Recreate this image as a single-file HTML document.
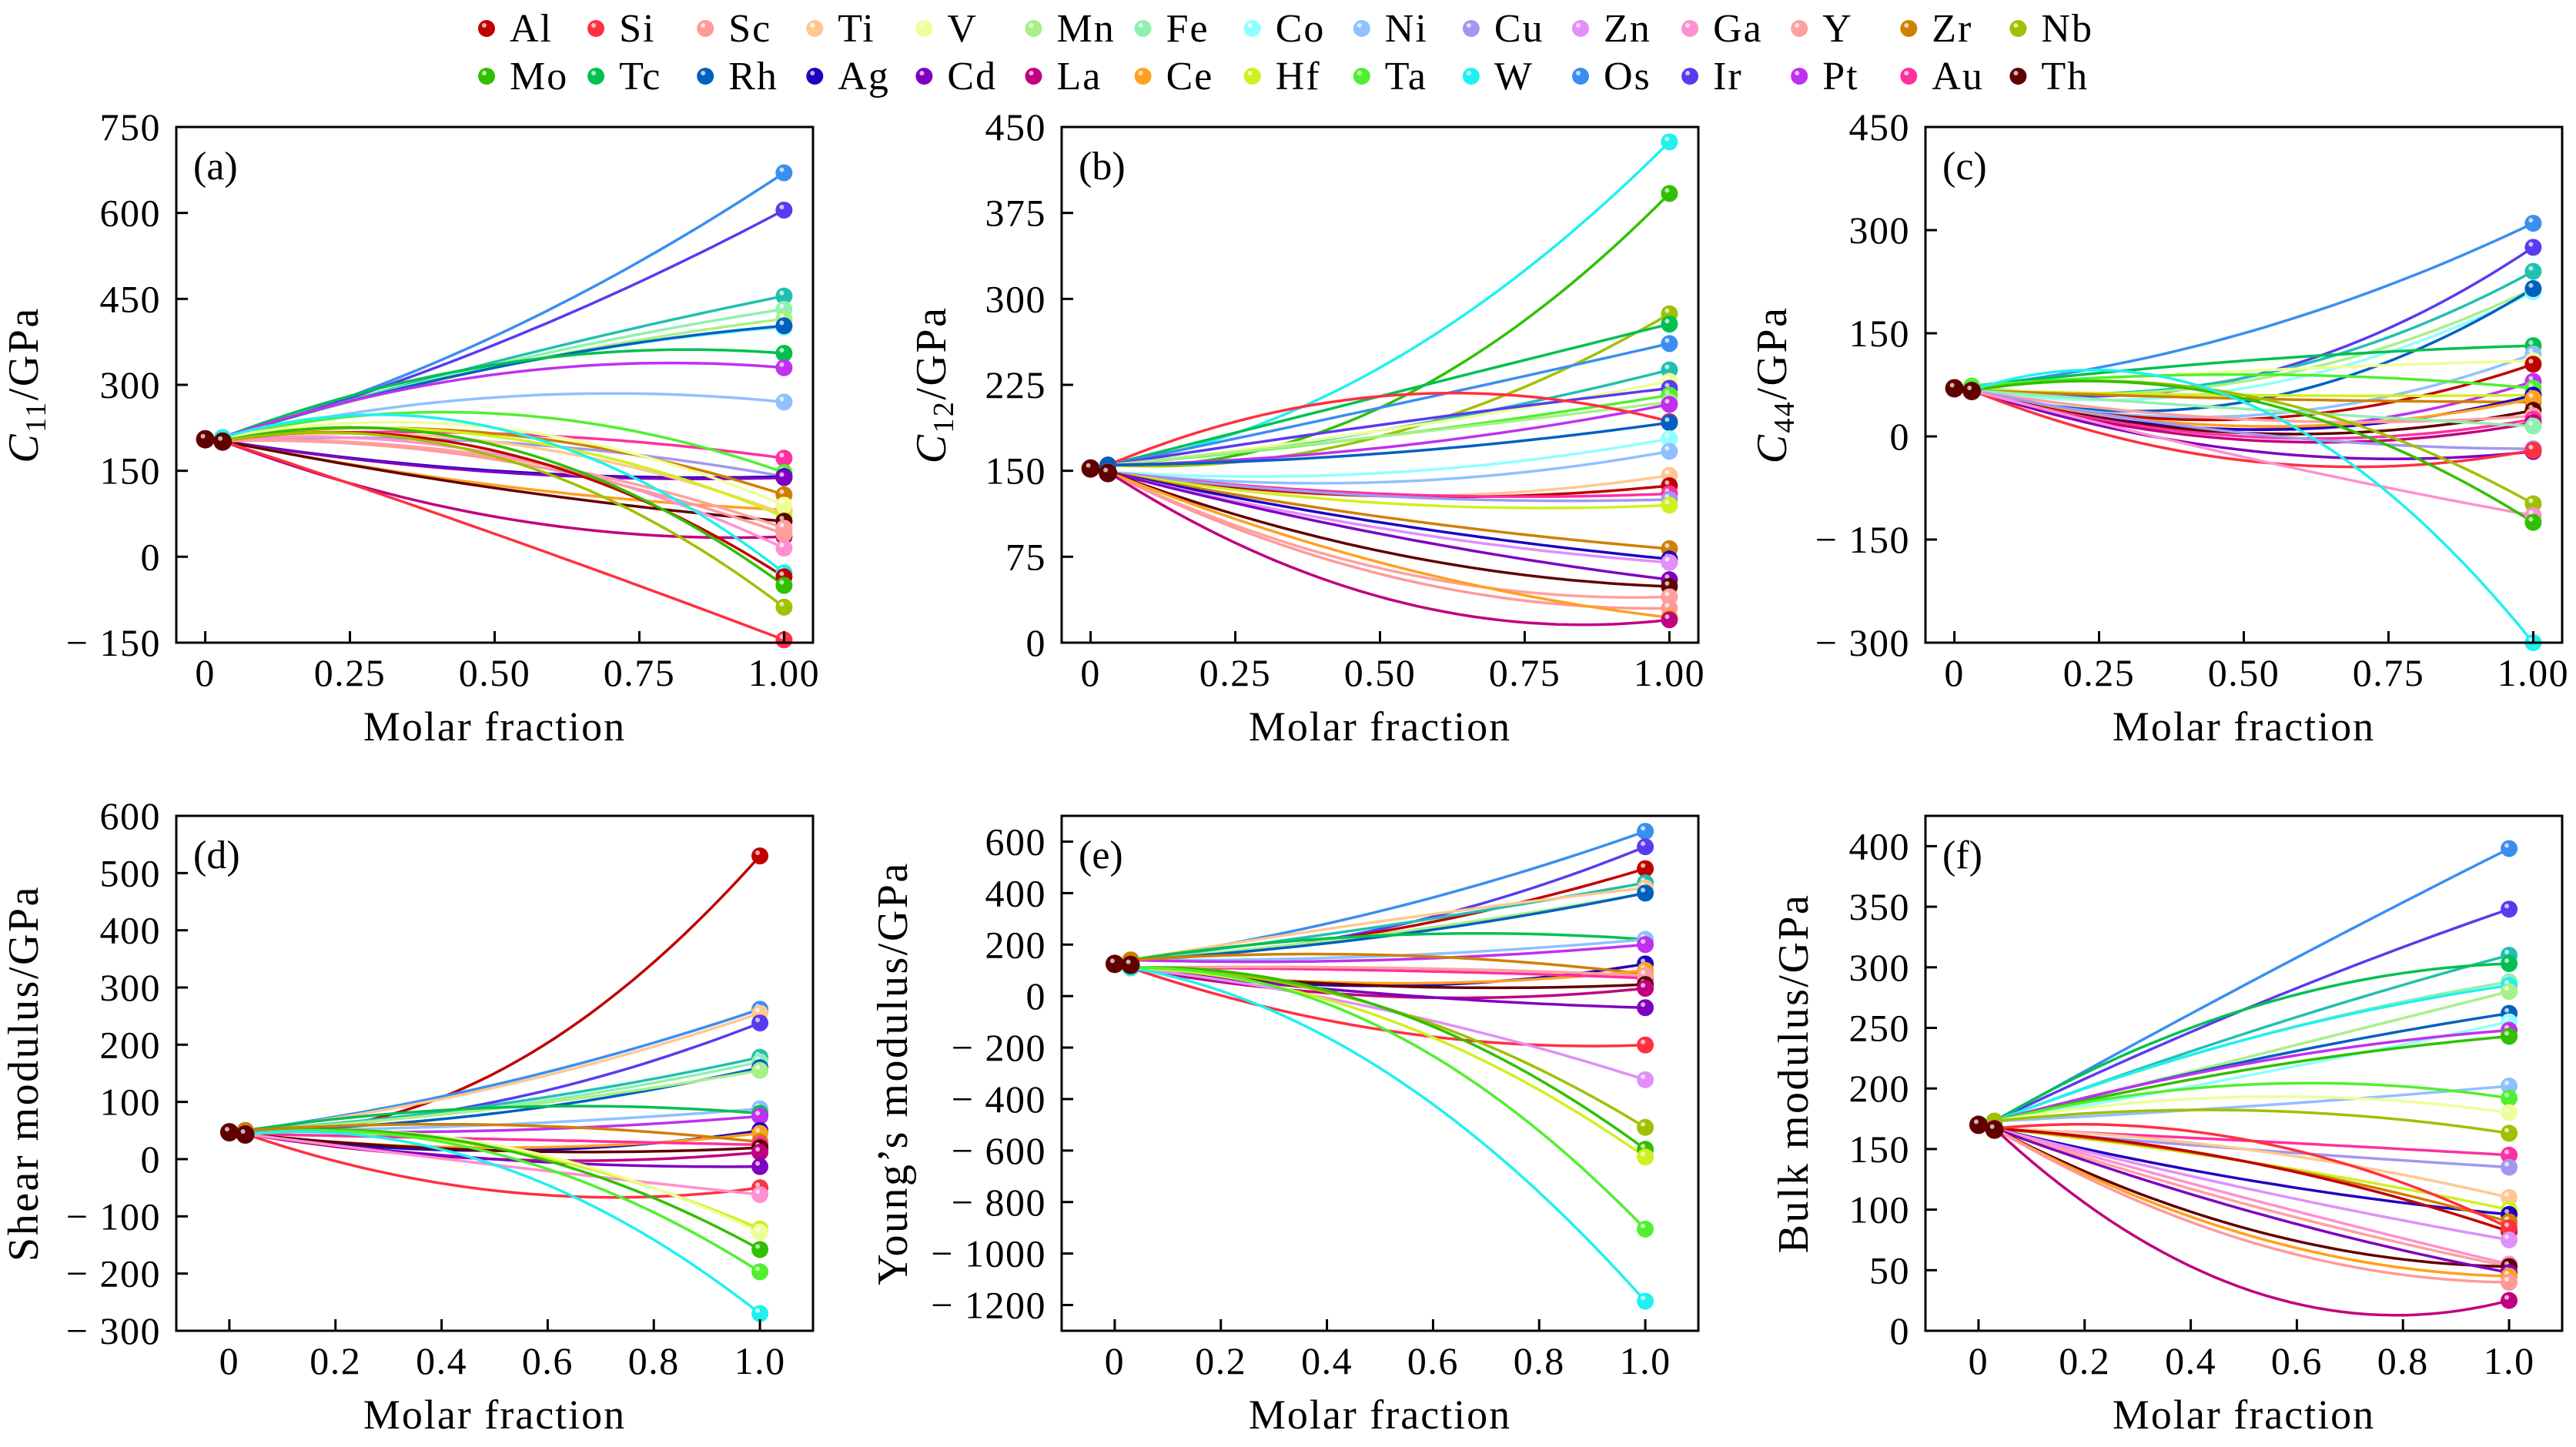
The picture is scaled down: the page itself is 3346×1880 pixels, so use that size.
<!DOCTYPE html>
<html><head><meta charset="utf-8">
<style>
html,body{margin:0;padding:0;background:#fff;}
svg{display:block;}
text{font-family:"Liberation Serif","DejaVu Serif",serif;fill:#000;}
</style></head>
<body>
<svg id="s" width="3346" height="1880" viewBox="0 0 3346 1880" xmlns="http://www.w3.org/2000/svg"></svg>
<script>
const C={Al:'#c00000',Si:'#ff3040',Sc:'#ff9a9a',Ti:'#ffc890',V:'#eeff99',Mn:'#a8f088',Fe:'#90f0b0',Co:'#90ffff',Ni:'#90c0ff',Cu:'#a098f0',Zn:'#e090f8',Ga:'#ff90d0',Y:'#ffa0a0',Zr:'#d08000',Nb:'#a0c000',
Mo:'#30c000',Tc:'#00c050',Rh:'#0060c0',Ag:'#2000c0',Cd:'#8000c0',La:'#c00080',Ce:'#ffa020',Hf:'#d0f020',Ta:'#50f030',W:'#20f0f0',Os:'#3a8ef0',Ir:'#5a3af0',Pt:'#c030f0',Au:'#ff30a0',Th:'#600000',Teal:'#20c0b0'};
const names=['Al','Si','Sc','Ti','V','Mn','Fe','Co','Ni','Cu','Zn','Ga','Y','Zr','Nb','Mo','Tc','Rh','Ag','Cd','La','Ce','Hf','Ta','W','Os','Ir','Pt','Au','Th'];
let o='';
names.forEach((n,i)=>{const r=i<15?0:1,c=i%15;const x=632+142.1*c,y=r?99:37;
o+=`<circle cx="${x}" cy="${y}" r="11" fill="${C[n]}"/><circle cx="${x-3}" cy="${y-4}" r="3" fill="#fff" opacity="0.7"/>`;
o+=`<text x="${x+30}" y="${y+17}" font-size="52" letter-spacing="2">${n}</text>`;});
const panels=[
{x0:229,y0:165,h:670,ymin:-150,ymax:750,yt:[-150,0,150,300,450,600,750],xr:[-0.05,1.05],xt:[[0,'0'],[0.25,'0.25'],[0.5,'0.50'],[0.75,'0.75'],[1,'1.00']],lab:'(a)',yl:'C11',ylx:31,base:205,
d:[['Os',670,385],['Ir',605,370],['Teal',455,340],['Fe',432,335],['Mn',415,330],['Co',400,330],['Rh',403,330],['Tc',355,335],['Pt',330,318],['Ni',270,278],['Au',172,215],['Ta',147,250],['Cu',140,200],['Ag',140,150],['Cd',138,148],['Zr',108,215],['Ce',82,125],['Ti',75,200],['Hf',70,210],['V',90,225],['Th',62,120],['La',35,70],['Ga',15,180],['Sc',40,170],['Y',50,175],['W',-28,225],['Al',-35,185],['Mo',-50,195],['Nb',-88,175],['Si',-145,40]]},
{x0:1379,y0:165,h:670,ymin:0,ymax:450,yt:[0,75,150,225,300,375,450],xr:[-0.05,1.05],xt:[[0,'0'],[0.25,'0.25'],[0.5,'0.50'],[0.75,'0.75'],[1,'1.00']],lab:'(b)',yl:'C12',ylx:1210,base:152,
d:[['W',437,240],['Mo',392,205],['Nb',287,180],['Tc',278,215],['Os',261,205],['Teal',238,185],['V',228,185],['Ir',222,190],['Ta',216,180],['Mn',210,180],['Pt',208,170],['Si',193,215],['Rh',192,165],['Co',178,148],['Ni',167,140],['Ti',146,128],['Al',137,128],['Au',130,130],['Cu',125,128],['Hf',120,122],['Zr',82,110],['Ag',73,105],['Zn',70,100],['Cd',55,95],['Th',49,80],['Y',40,65],['Sc',30,60],['Ce',22,70],['La',20,40]]},
{x0:2501,y0:165,h:670,ymin:-300,ymax:450,yt:[-300,-150,0,150,300,450],xr:[-0.05,1.05],xt:[[0,'0'],[0.25,'0.25'],[0.5,'0.50'],[0.75,'0.75'],[1,'1.00']],lab:'(c)',yl:'C44',ylx:2302,base:70,
d:[['Os',310,150],['Ir',275,85],['Teal',240,85],['Mn',215,80],['Co',210,70],['Rh',215,50],['Tc',132,110],['Ni',120,30],['V',110,95],['Al',105,25],['Pt',80,10],['Ta',70,90],['Hf',60,60],['Zr',50,55],['Ag',60,10],['Ce',55,15],['Th',38,5],['Y',30,25],['Au',25,0],['La',20,-5],['Fe',15,40],['Cu',-18,5],['Cd',-22,-20],['Si',-20,-35],['Nb',-98,60],['Ga',-115,-30],['Mo',-125,55],['W',-300,50]]},
{x0:229,y0:1060,h:669,ymin:-300,ymax:600,yt:[-300,-200,-100,0,100,200,300,400,500,600],xr:[-0.1,1.1],xt:[[0,'0'],[0.2,'0.2'],[0.4,'0.4'],[0.6,'0.6'],[0.8,'0.8'],[1,'1.0']],lab:'(d)',yl:'Shear modulus/GPa',ylx:31,base:47,
d:[['Al',530,150],['Os',262,130],['Ti',255,125],['Ir',238,100],['Teal',178,95],['Fe',170,90],['Rh',160,80],['Mn',155,88],['Ni',88,60],['Tc',80,90],['Pt',75,50],['Ag',50,15],['Ce',45,20],['Zr',30,60],['Au',25,35],['Th',20,15],['La',12,0],['Cd',-13,0],['Si',-50,-55],['Ga',-62,-10],['Hf',-122,20],['V',-128,25],['Mo',-158,20],['Ta',-197,10],['W',-270,-10]]},
{x0:1379,y0:1060,h:669,ymin:-1300,ymax:700,yt:[-1200,-1000,-800,-600,-400,-200,0,200,400,600],xr:[-0.1,1.1],xt:[[0,'0'],[0.2,'0.2'],[0.4,'0.4'],[0.6,'0.6'],[0.8,'0.8'],[1,'1.0']],lab:'(e)',yl:"Young’s modulus/GPa",ylx:1160,base:125,
d:[['Os',640,330],['Ir',580,260],['Al',495,250],['Teal',440,270],['Ti',420,290],['Mn',400,240],['Rh',400,230],['Tc',220,235],['Ni',220,155],['Pt',200,140],['Ag',125,40],['Zr',85,160],['Ce',100,50],['Au',70,100],['Y',80,110],['Th',45,40],['La',30,0],['Cd',-45,10],['Si',-190,-130],['Zn',-325,-50],['Nb',-510,-40],['Mo',-595,-40],['Hf',-625,-80],['Ta',-905,-120],['W',-1185,-280]]},
{x0:2501,y0:1060,h:669,ymin:0,ymax:425,yt:[0,50,100,150,200,250,300,350,400],xr:[-0.1,1.1],xt:[[0,'0'],[0.2,'0.2'],[0.4,'0.4'],[0.6,'0.6'],[0.8,'0.8'],[1,'1.0']],lab:'(f)',yl:'Bulk modulus/GPa',ylx:2330,base:170,
d:[['Os',398,285],['Ir',348,265],['Teal',310,245],['Tc',303,265],['Fe',288,240],['W',285,240],['Mn',280,225],['Rh',262,222],['Co',255,210],['Pt',248,220],['Mo',243,215],['Ni',202,185],['Ta',192,203],['V',180,193],['Nb',163,182],['Au',145,157],['Cu',135,150],['Ti',110,150],['Hf',100,140],['Ag',96,125],['Zr',90,140],['Al',82,140],['Si',85,158],['Zn',75,118],['Ga',55,110],['Y',53,105],['Th',53,85],['Cd',48,100],['Ce',45,80],['Sc',40,75],['La',25,35]]}
];
function fmt(v){return v<0?'− '+(-v):''+v;}
panels.forEach((p,pi)=>{
 const w=827,X=x=>p.x0+(x-p.xr[0])/(p.xr[1]-p.xr[0])*w,Y=v=>p.y0+(p.ymax-v)/(p.ymax-p.ymin)*p.h;
 const bot=p.y0+p.h;
 o+=`<g><clipPath id="c${pi}"><rect x="${p.x0}" y="${p.y0}" width="${w}" height="${p.h}"/></clipPath>`;
 const ends=[];
 p.d.forEach(([n,e,m])=>{
  const s=p.base+(m>p.base?3:-3)*(pi==4?5:1);
  const x0=0.03,x1=0.5,x2=1;
  const L=(x)=>s*((x-x1)*(x-x2))/((x0-x1)*(x0-x2))+m*((x-x0)*(x-x2))/((x1-x0)*(x1-x2))+e*((x-x0)*(x-x1))/((x2-x0)*(x2-x1));
  let pts=[];for(let i=0;i<=40;i++){const x=x0+(1-x0)*i/40;pts.push(X(x).toFixed(1)+','+Y(L(x)).toFixed(1));}
  o+=`<polyline points="${pts.join(' ')}" fill="none" stroke="${C[n]}" stroke-width="3.5" clip-path="url(#c${pi})"/>`;
  ends.push([n,e,s]);
 });
 ends.forEach(([n,e,s])=>{
  const xs=X(0.03),ys=Y(s),xe=X(1),ye=Y(e);
  o+=`<circle cx="${xs}" cy="${ys}" r="11" fill="${C[n]}"/>`;
  o+=`<circle cx="${xe}" cy="${ye}" r="11" fill="${C[n]}"/><circle cx="${xe-3}" cy="${ye-4}" r="3" fill="#fff" opacity="0.7"/>`;
 });
 o+=`<circle cx="${X(0.03)}" cy="${Y(p.base-4)}" r="12" fill="#600000"/><circle cx="${X(0.03)-3}" cy="${Y(p.base-4)-4}" r="3" fill="#fff" opacity="0.7"/>`;
 o+=`<circle cx="${X(0)}" cy="${Y(p.base)}" r="12" fill="#600000"/><circle cx="${X(0)-3}" cy="${Y(p.base)-4}" r="3" fill="#fff" opacity="0.7"/>`;
 o+=`</g>`;
 o+=`<rect x="${p.x0}" y="${p.y0}" width="${w}" height="${p.h}" fill="none" stroke="#000" stroke-width="3"/>`;
 p.yt.forEach(v=>{const y=Y(v);o+=`<line x1="${p.x0}" y1="${y}" x2="${p.x0+15}" y2="${y}" stroke="#000" stroke-width="3"/><text x="${p.x0-20}" y="${y+17}" font-size="50" letter-spacing="1.5" text-anchor="end">${fmt(v)}</text>`;});
 p.xt.forEach(([v,l])=>{const x=X(v);o+=`<line x1="${x}" y1="${bot}" x2="${x}" y2="${bot-15}" stroke="#000" stroke-width="3"/><text x="${x}" y="${bot+56}" font-size="50" letter-spacing="1.5" text-anchor="middle">${l}</text>`;});
 o+=`<text x="${p.x0+w/2}" y="${bot+127}" font-size="54" letter-spacing="2" text-anchor="middle">Molar fraction</text>`;
 o+=`<text x="${p.x0+22}" y="${p.y0+68}" font-size="52">${p.lab}</text>`;
 const cy=p.y0+p.h/2;
 let lab=p.yl.startsWith('C')&&p.yl.length==3?`<tspan font-style="italic">C</tspan><tspan font-size="38" dy="10">${p.yl.slice(1)}</tspan><tspan dy="-10">/GPa</tspan>`:p.yl;
 o+=`<text transform="translate(${p.ylx+18},${cy}) rotate(-90)" font-size="56" letter-spacing="2.5" text-anchor="middle">${lab}</text>`;
});
document.getElementById('s').innerHTML=o;
</script>
</body></html>
